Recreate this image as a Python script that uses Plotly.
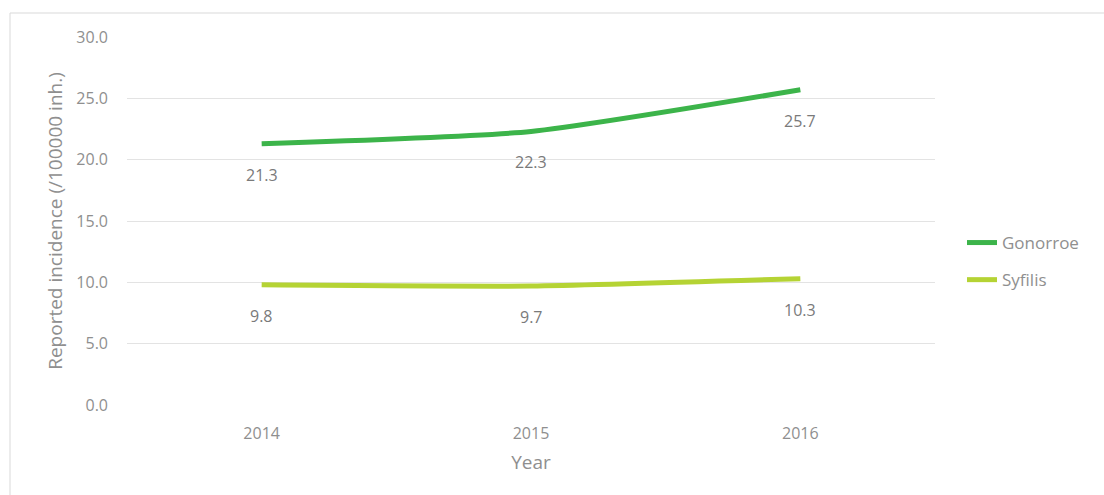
import plotly.graph_objects as go

years = ["2014", "2015", "2016"]
gonorroe = [21.3, 22.3, 25.7]
syfilis = [9.8, 9.7, 10.3]
y_ticks = [0, 5, 10, 15, 20, 25, 30]
y_tick_labels = ["0.0", "5.0", "10.0", "15.0", "20.0", "25.0", "30.0"]

FONT = "Open Sans, Liberation Sans, sans-serif"
GRAY = "#8f8f8f"

fig = go.Figure()
fig.add_trace(go.Scatter(x=years, y=gonorroe, name="Gonorroe", mode="lines", legendgroup="g",
                         line=dict(color="#3cb44a", width=5, shape="spline", smoothing=0.55)))
fig.add_trace(go.Scatter(x=years, y=syfilis, name="Syfilis", mode="lines", legendgroup="s",
                         line=dict(color="#b5d334", width=5, shape="spline", smoothing=0.55)))

for series in (gonorroe, syfilis):
    for i, v in enumerate(series):
        fig.add_annotation(x=i, y=v, xref="x", yref="y", text=f"{v:.1f}", showarrow=False,
                           yshift=-31, font=dict(family=FONT, size=16, color="#7a7a7a"))

W, H = 1104, 495
L, R, T, B = 127, 169, 37, 90
pw, ph = W - L - R, H - T - B
def px(x):
    return (x - L) / pw
def py(y):
    return (H - B - y) / ph

# chart frame (top and left edges visible)
fig.add_shape(type="rect", xref="paper", yref="paper",
              x0=px(10), x1=px(1120), y0=py(520), y1=py(13),
              line=dict(color="#d9d9d9", width=1), layer="below")

fig.update_layout(
    width=W, height=H,
    margin=dict(l=L, r=R, t=T, b=B),
    paper_bgcolor="white", plot_bgcolor="white",
    font=dict(family=FONT, color=GRAY),
    showlegend=True,
    legend=dict(x=px(962), y=py(225), xanchor="left", yanchor="top",
                font=dict(family=FONT, size=17, color=GRAY),
                traceorder="grouped", tracegroupgap=12, itemwidth=30,
                bgcolor="rgba(0,0,0,0)"),
    xaxis=dict(type="category", range=[-0.5, 2.5], showgrid=False, showline=False,
               zeroline=False, ticks="", ticklabelstandoff=17,
               tickfont=dict(size=16, color=GRAY),
               title=dict(text="Year", font=dict(size=19, color=GRAY), standoff=12)),
    yaxis=dict(range=[0, 30], tickvals=y_ticks, ticktext=y_tick_labels,
               showgrid=True, gridcolor="#e3e3e3", gridwidth=1, zeroline=False,
               showline=False, ticks="", ticklabelstandoff=18,
               tickfont=dict(size=16, color=GRAY),
               title=dict(text="Reported incidence (/100000 inh.)",
                          font=dict(size=19, color=GRAY), standoff=8)),
)

fig.write_html("out.html")
